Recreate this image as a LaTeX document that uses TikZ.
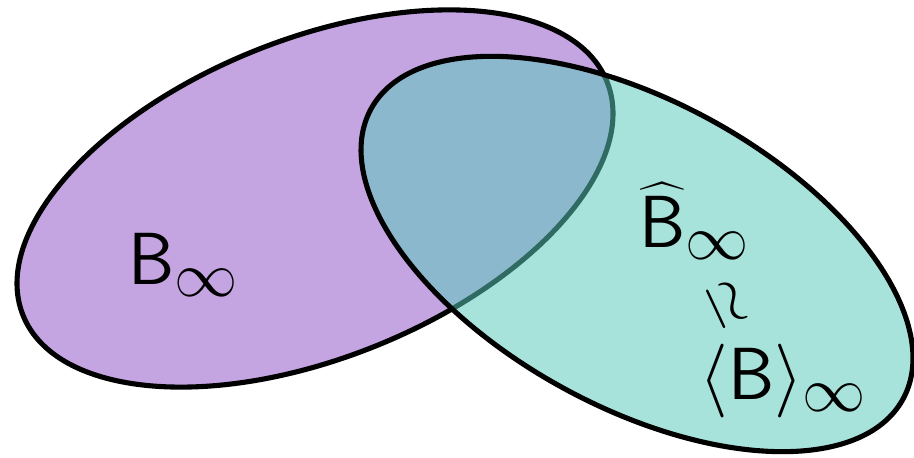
\RequirePackage{fix-cm}
\documentclass[tikz,border=0pt]{standalone}
\usepackage{amsmath}
\usepackage{xcolor}

\DeclareMathSizes{42}{42}{36}{25}
\definecolor{setpurple}{RGB}{196,165,225}
\definecolor{setteal}{RGB}{89,202,187}

\begin{document}
\begin{tikzpicture}[
        every node/.style={inner sep=0pt},
        settext/.style={font=\fontsize{42}{48}\selectfont},
        setline/.style={line width=2.9pt, draw=black}
    ]
        \useasboundingbox (0,0) rectangle (18.28,9.16);

        % The two sets
        \draw[setline, fill=setpurple, rotate around={21.8:(6.3,5.19)}]
            (6.3,5.19) ellipse (6.29 and 3.19);
        \draw[setline, fill=setteal, fill opacity=0.53, rotate around={-28.6:(12.74,4.08)}]
            (12.74,4.08) ellipse (6.06 and 3.06);

        % Labels
        \node[settext, anchor=base west] (binf) at (2.56,3.46) {$\mathsf{B}_\infty$};
        \node[settext, anchor=base west] (bhat) at (12.78,4.2) {$\widehat{\mathsf{B}}_\infty$};
        \node[font=\fontsize{36}{42}\selectfont, rotate=-65] (simrel) at (14.52,3.06) {$\simeq$};
        \node[settext, anchor=base west] (bavg) at (13.98,1.16) {$\langle\mathsf{B}\rangle_\infty$};
    \end{tikzpicture}
\end{document}
